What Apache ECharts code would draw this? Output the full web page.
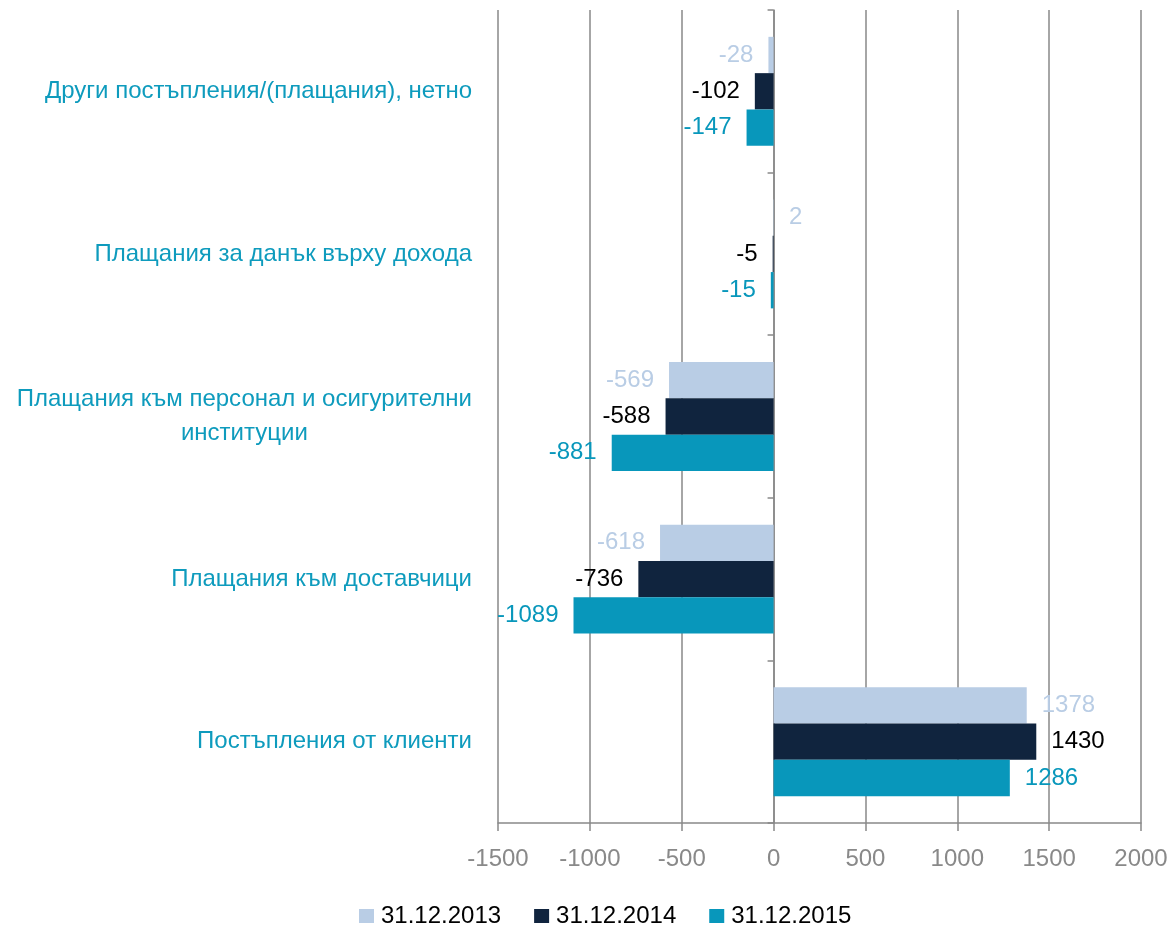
<!DOCTYPE html>
<html>
<head>
<meta charset="utf-8">
<script src="https://cdn.jsdelivr.net/npm/echarts@6/dist/echarts.min.js"></script>
<style>
  html, body { margin: 0; padding: 0; background: #fff; }
  #chart { width: 1172px; height: 925px; }
</style>
</head>
<body>
<div id="chart"></div>
<script>
// categories, bottom to top
var categories = [
  'Постъпления от клиенти',
  'Плащания към доставчици',
  'Плащания към персонал и осигурителни институции',
  'Плащания за данък върху дохода',
  'Други постъпления/(плащания), нетно'
]
var seriesNames = ['31.12.2013', '31.12.2014', '31.12.2015']
var values2013 = [1378, -618, -569, 2, -28]
var values2014 = [1430, -736, -588, -5, -102]
var values2015 = [1286, -1089, -881, -15, -147]
var xTicks = [-1500, 2000, 500]

var colors = ['#b9cde5', '#10243e', '#0897bb']
var labelColors = ['#b9cde5', '#000000', '#0897bb']
var font = '"Liberation Sans", Arial, sans-serif'

function makeSeries(i, data) {
  return {
    name: seriesNames[i],
    type: 'bar',
    yAxisIndex: 0,
    barGap: '0%',
    barCategoryGap: '33%',
    itemStyle: { color: colors[i] },
    data: data.map(function (v) {
      return {
        value: v,
        label: { position: v >= 0 ? 'right' : 'left' }
      }
    }),
    label: {
      show: true,
      color: labelColors[i],
      fontSize: 24,
      fontFamily: font,
      distance: 15
    }
  }
}

var chart = echarts.init(document.getElementById('chart'))
chart.setOption({
  animation: false,
  color: colors,
  grid: { left: 498, right: 31, top: 10, bottom: 102, containLabel: false },
  legend: {
    left: 354,
    top: 899,
    itemWidth: 15,
    itemHeight: 14,
    itemGap: 33,
    icon: 'rect',
    data: seriesNames,
    textStyle: { fontSize: 24, fontFamily: font, color: '#000', padding: [0, 0, 0, 2] }
  },
  xAxis: {
    type: 'value',
    min: xTicks[0],
    max: xTicks[1],
    interval: xTicks[2],
    axisLine: { show: true, onZero: false, lineStyle: { color: '#898989', width: 1.5 } },
    axisTick: { show: true, length: 8, lineStyle: { color: '#898989', width: 1.5 } },
    splitLine: { show: true, lineStyle: { color: '#898989', width: 1.5 } },
    axisLabel: {
      fontSize: 24,
      fontFamily: font,
      color: '#898989',
      margin: 24,
      formatter: function (v) { return String(v) }
    }
  },
  yAxis: [
    {
      type: 'category',
      data: categories,
      axisLine: { show: false, onZero: false },
      axisTick: { show: false },
      axisLabel: {
        margin: 26,
        fontSize: 24,
        fontFamily: font,
        color: '#0e9bbd',
        formatter: function (name) {
          if (name.length > 40) {
            var idx = name.lastIndexOf(' ')
            return '{a|' + name.slice(0, idx) + '}\n{a|' + name.slice(idx + 1) + '}'
          }
          return '{a|' + name + '}'
        },
        rich: {
          a: { align: 'center', fontSize: 24, fontFamily: font, color: '#0e9bbd', lineHeight: 34 }
        }
      }
    },
    {
      type: 'category',
      data: categories,
      position: 'left',
      axisLine: { show: true, onZero: true, lineStyle: { color: '#898989', width: 1.5 } },
      axisTick: { show: true, length: 6, lineStyle: { color: '#898989', width: 1.5 } },
      axisLabel: { show: false },
      splitLine: { show: false }
    }
  ],
  series: [
    makeSeries(0, values2013),
    makeSeries(1, values2014),
    makeSeries(2, values2015)
  ]
})
</script>
</body>
</html>
